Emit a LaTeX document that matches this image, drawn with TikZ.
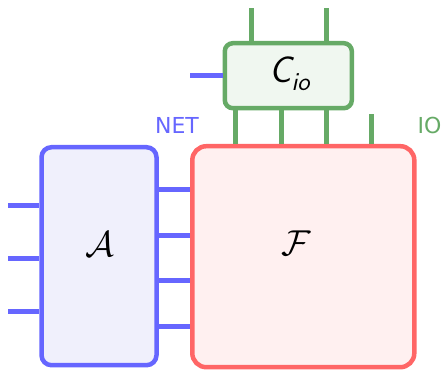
\RequirePackage{fix-cm}
\documentclass[tikz,border=0pt]{standalone}
\usepackage{amsmath}
\usepackage{fontspec}
\newfontfamily\tagfont{DejaVu Sans}
\definecolor{netblue}{HTML}{6666FF}
\definecolor{netfill}{HTML}{F0F0FC}
\definecolor{funcred}{HTML}{FF6666}
\definecolor{funcfill}{HTML}{FFF0F0}
\definecolor{iogreen}{HTML}{66AA66}
\definecolor{iofill}{HTML}{F0F7F0}

\begin{document}
\begin{tikzpicture}[x=1pt,y=-1pt,
		netbox/.style={draw=netblue,fill=netfill,line width=4.5pt,rounded corners=10pt,minimum width=115pt,minimum height=218pt},
		funcbox/.style={draw=funcred,fill=funcfill,line width=4.5pt,rounded corners=14pt,minimum width=222pt,minimum height=221pt},
		iobox/.style={draw=iogreen,fill=iofill,line width=4.5pt,rounded corners=8pt,minimum width=127pt,minimum height=65pt},
		netwire/.style={draw=netblue,line width=5pt},
		iowire/.style={draw=iogreen,line width=5pt},
		bigmath/.style={font=\fontsize{36}{36}\selectfont}]
			\useasboundingbox (0,0) rectangle (443,370);
			\node[netbox] (A) at (99,256.2) {};
			\node[funcbox] (F) at (303.3,256.7) {};
			\node[iobox] (C) at (288.3,75.7) {};
			% wires into and out of A
			\foreach \y in {205,258,311}
			{\coordinate (in\y) at (8,\y);
				\draw[netwire] (in\y) -- (A.west |- in\y);}
			\foreach \y in {189,235,280,326}
			\draw[netwire] (A.east |- 0,\y) -- (F.west |- 0,\y);
			% wires of C
			\foreach \x in {251,326}
			{\coordinate (top\x) at (\x,8);
				\draw[iowire] (top\x) -- (C.north -| top\x);}
			\foreach \x in {235,281,326}
			\draw[iowire] (C.south -| \x,0) -- (F.north -| \x,0);
			\coordinate (iotop) at (371,114);
			\draw[iowire] (iotop) -- (F.north -| iotop);
			\coordinate (netin) at (190,75.7);
			\draw[netwire] (netin) -- (C.west);
			% labels
			\node[bigmath] (Alab) at (99.5,244) {$\mathcal{A}$};
			\node[bigmath] (Flab) at (296.5,243) {$\mathcal{F}$};
			\node[font=\fontsize{37}{37}\selectfont\sffamily\slshape] (Clab) at (289.5,74) {C\raisebox{-0.22em}{\fontsize{26}{26}\selectfont io}};
			\node[text=netblue,font=\fontsize{22}{22}\selectfont\tagfont] (netlab) at (177,125) {NET};
			\node[text=iogreen,font=\fontsize{22}{22}\selectfont\tagfont] (iolab) at (429.5,125) {IO};
		\end{tikzpicture}
\end{document}
